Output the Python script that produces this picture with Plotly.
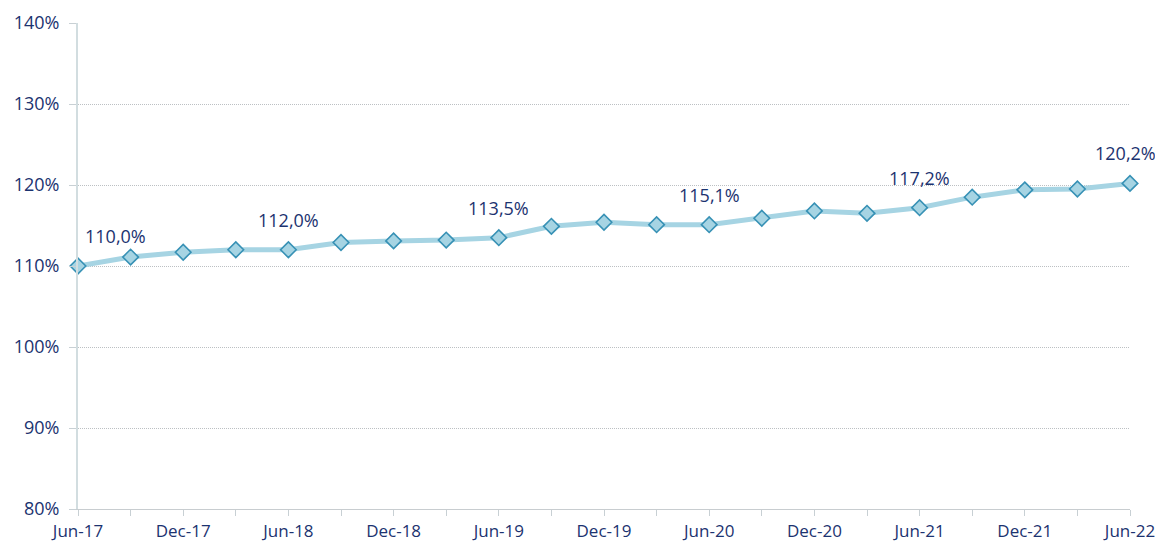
import plotly.graph_objects as go

quarters = ["Jun-17", "Sep-17", "Dec-17", "Mar-18", "Jun-18", "Sep-18", "Dec-18",
            "Mar-19", "Jun-19", "Sep-19", "Dec-19", "Mar-20", "Jun-20", "Sep-20",
            "Dec-20", "Mar-21", "Jun-21", "Sep-21", "Dec-21", "Mar-22", "Jun-22"]
values = [110.0, 111.1, 111.7, 112.0, 112.0, 112.9, 113.1, 113.2, 113.5, 114.9,
          115.4, 115.1, 115.1, 115.9, 116.8, 116.5, 117.2, 118.5, 119.4, 119.5, 120.2]
labeled_idx = [0, 4, 8, 12, 16, 20]
y_ticks = [80, 90, 100, 110, 120, 130, 140]

NAVY = "#1c3370"
FONT = "'Open Sans', Lato, sans-serif"
FS = 18

x = list(range(len(quarters)))

fig = go.Figure()
fig.add_trace(go.Scatter(
    x=x, y=values, mode="lines+markers",
    line=dict(color="#a6d4e3", width=5),
    marker=dict(symbol="diamond", size=12, color="#a6d4e3",
                line=dict(color="#3791b5", width=1.6)),
    cliponaxis=False, hoverinfo="skip", showlegend=False,
))

last = len(quarters) - 1
for i in labeled_idx:
    shift = 37 if i == 0 else (-5 if i == last else 0)
    fig.add_annotation(
        x=x[i], y=values[i],
        text=f"{values[i]:.1f}%".replace(".", ","),
        showarrow=False, yshift=30, xshift=shift,
        font=dict(color=NAVY, size=FS, family=FONT),
    )

# page body has an 8px default margin, so the figure is sized/offset to compensate
fig.update_layout(
    width=1155, height=538,
    margin=dict(l=70, r=33, t=15, b=37, autoexpand=False),
    paper_bgcolor="white", plot_bgcolor="white",
    font=dict(family=FONT, color=NAVY, size=FS),
)
fig.update_xaxes(
    range=[0, last], automargin=False,
    tickmode="array", tickvals=x,
    ticktext=[q if i % 2 == 0 else "" for i, q in enumerate(quarters)],
    ticks="outside", ticklen=6, tickcolor="#c8d0d4", tickwidth=1,
    showgrid=False, showline=True, linecolor="#c8cdd0", linewidth=1,
    zeroline=False, tickfont=dict(size=17, color=NAVY, family=FONT),
    ticklabelstandoff=1,
)
fig.update_yaxes(
    range=[80, 140], automargin=False, tickmode="array", tickvals=y_ticks,
    ticktext=[f"{v}%" for v in y_ticks],
    ticks="outside", ticklen=7, tickcolor="#c8d0d4",
    showgrid=True, gridcolor="#bcc0c3", griddash="1px,1px", gridwidth=1,
    showline=True, linecolor="#d2dde0", linewidth=2,
    zeroline=False, tickfont=dict(size=FS, color=NAVY, family=FONT),
    ticklabelstandoff=6,
)

fig.write_html("out.html")
